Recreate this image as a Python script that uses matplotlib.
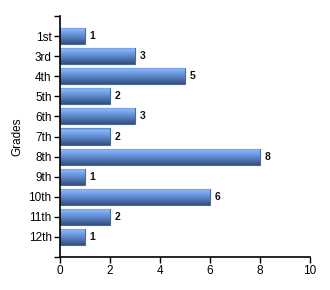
import numpy as np
import matplotlib
matplotlib.use("Agg")
import matplotlib.pyplot as plt
from matplotlib.colors import LinearSegmentedColormap

grades = ["1st", "3rd", "4th", "5th", "6th", "7th", "8th", "9th", "10th", "11th", "12th"]
counts = [1, 3, 5, 2, 3, 2, 8, 1, 6, 2, 1]
x_ticks = [0, 2, 4, 6, 8, 10]

plt.rcParams['font.family'] = ['Liberation Sans', 'DejaVu Sans']

fig = plt.figure(figsize=(3.3, 2.9), dpi=100)
ax = fig.add_axes([60 / 330, 33 / 290, 250 / 330, 241 / 290])

pos = np.arange(len(grades))
bars = ax.barh(pos, counts, height=0.8, color='#5f8fd6', edgecolor='#4a6a9e', linewidth=0.8, zorder=2)

# vertical gradient: dark rim on top, light highlight, fading to dark navy at bottom
cmap = LinearSegmentedColormap.from_list('bar', [
    (0.0, '#5b80c0'), (0.12, '#8ab6f6'), (0.35, '#6f9de6'),
    (0.75, '#4a6ea8'), (1.0, '#314f7e')])
grad = np.linspace(0, 1, 64).reshape(-1, 1)
for b in bars:
    x0, y0 = b.get_x(), b.get_y()
    w, h = b.get_width(), b.get_height()
    im = ax.imshow(grad, cmap=cmap, aspect='auto', extent=(x0, x0 + w, y0 + h, y0),
                   zorder=2.5, interpolation='bilinear')
    im.set_clip_path(b)

for p, v in zip(pos, counts):
    ax.annotate(str(v), (v, p), xytext=(3.5, 0), textcoords='offset points',
                va='center', ha='left', fontsize=7.5, fontweight='bold', color='#111111')

ax.set_xlim(0, 10)
ax.set_ylim(11, -1)
ax.set_xticks(x_ticks)
ax.set_yticks(pos)
ax.set_yticklabels(grades)
ax.set_yticks([-1, 11], minor=True)
ax.tick_params(axis='both', labelsize=8.5, direction='out', length=4, width=1, color='black', pad=2)
ax.tick_params(axis='y', which='minor', length=4, width=1)
ax.set_ylabel('Grades', fontsize=8.5)
ax.yaxis.set_label_coords(-0.145, 0.5)

ax.spines['top'].set_visible(False)
ax.spines['right'].set_visible(False)
ax.spines['left'].set_linewidth(1.2)
ax.spines['bottom'].set_linewidth(1.2)

fig.savefig('out.png', dpi=100)
